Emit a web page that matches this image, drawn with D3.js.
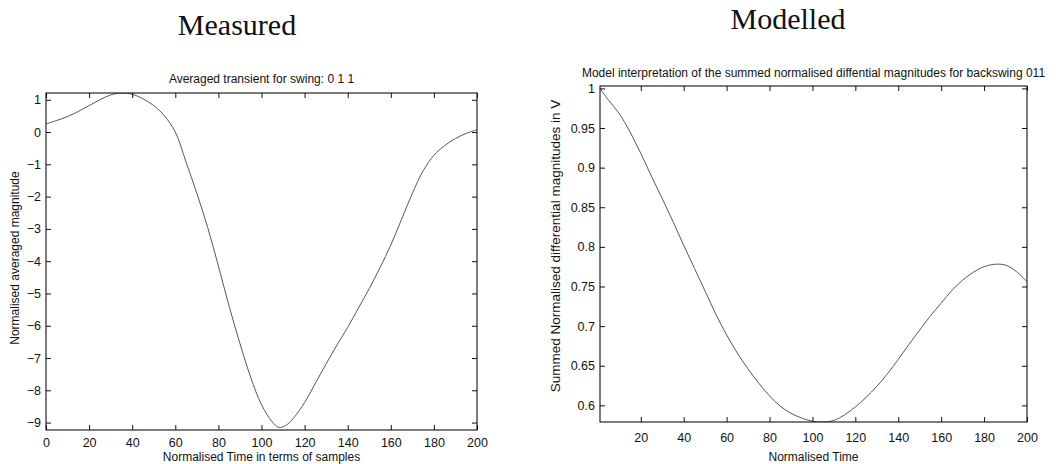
<!DOCTYPE html>
<html>
<head>
<meta charset="utf-8">
<script src="https://cdn.jsdelivr.net/npm/d3@7"></script>
<style>
  html, body { margin: 0; padding: 0; background: #fff; }
  svg { display: block; }
  .tick text { font-family: "Liberation Sans", Arial, sans-serif; font-size: 12.5px; fill: #111; }
  .lbl { font-family: "Liberation Sans", Arial, sans-serif; font-size: 12px; fill: #111; }
  .head { font-family: "Liberation Serif", "Times New Roman", serif; font-size: 30px; fill: #111; }
</style>
</head>
<body>
<svg id="fig" width="1060" height="464"></svg>
<script>
// Measured: averaged transient for swing 0 1 1
const measuredT = [0, 5, 10, 15, 20, 25, 30, 35, 40, 45, 50, 55, 60, 65, 70, 75, 80, 85, 90, 95, 100, 105, 108, 111, 115, 120, 125, 130, 135, 140, 145, 150, 155, 160, 165, 170, 175, 180, 185, 190, 195, 200];
const measuredV = [0.25, 0.36, 0.48, 0.64, 0.82, 1.0, 1.15, 1.21, 1.17, 1.03, 0.82, 0.5, 0.0, -0.93, -1.9, -2.95, -4.15, -5.4, -6.55, -7.6, -8.45, -8.98, -9.15, -9.1, -8.85, -8.38, -7.78, -7.18, -6.6, -6.05, -5.45, -4.85, -4.2, -3.5, -2.7, -1.9, -1.2, -0.72, -0.42, -0.2, -0.04, 0.07];

// Modelled: summed normalised differential magnitudes
const modelT = [1, 5, 10, 15, 20, 25, 30, 35, 40, 45, 50, 55, 60, 65, 70, 75, 80, 85, 90, 95, 100, 105, 110, 115, 120, 125, 130, 135, 140, 145, 150, 155, 160, 165, 170, 175, 180, 185, 190, 195, 200];
const modelV = [1.0, 0.985, 0.968, 0.945, 0.918, 0.889, 0.861, 0.832, 0.802, 0.773, 0.744, 0.715, 0.689, 0.666, 0.646, 0.628, 0.612, 0.599, 0.59, 0.584, 0.58, 0.579, 0.581, 0.588, 0.598, 0.61, 0.624, 0.64, 0.658, 0.677, 0.695, 0.713, 0.729, 0.745, 0.758, 0.768, 0.775, 0.778, 0.777, 0.769, 0.756];

const measuredXTicks = [0, 20, 40, 60, 80, 100, 120, 140, 160, 180, 200];
const measuredYTicks = [1, 0, -1, -2, -3, -4, -5, -6, -7, -8, -9];
const modelXTicks = [20, 40, 60, 80, 100, 120, 140, 160, 180, 200];
const modelYTicks = [0.6, 0.65, 0.7, 0.75, 0.8, 0.85, 0.9, 0.95, 1];

const svg = d3.select("#fig");

function panel(cfg) {
  const x = d3.scaleLinear().domain(cfg.xDomain).range([cfg.left, cfg.right]);
  const y = d3.scaleLinear().domain(cfg.yDomain).range([cfg.bottom, cfg.top]);
  const g = svg.append("g");
  const tk = 5;

  // clip so the trace stays inside the frame
  const clipId = "clip-" + cfg.id;
  svg.append("clipPath").attr("id", clipId).append("rect")
    .attr("x", cfg.left).attr("y", cfg.top)
    .attr("width", cfg.right - cfg.left).attr("height", cfg.bottom - cfg.top);

  const line = d3.line().x((d, i) => x(cfg.t[i])).y(d => y(d)).curve(d3.curveCatmullRom.alpha(0.5));
  g.append("path").datum(cfg.v)
    .attr("clip-path", `url(#${clipId})`)
    .attr("d", line).attr("fill", "none")
    .attr("stroke", "#444").attr("stroke-width", 0.9);

  // bottom / left axes with inward ticks
  const xb = g.append("g").attr("transform", `translate(0,${cfg.bottom})`)
    .call(d3.axisBottom(x).tickValues(cfg.xTicks).tickSizeInner(-tk).tickSizeOuter(0).tickPadding(cfg.xPad).tickFormat(d3.format("d")));
  const yl = g.append("g").attr("transform", `translate(${cfg.left},0)`)
    .call(d3.axisLeft(y).tickValues(cfg.yTicks).tickSizeInner(-tk).tickSizeOuter(0).tickPadding(5).tickFormat(cfg.yFmt));
  // mirrored top / right ticks
  const xt = g.append("g").attr("transform", `translate(0,${cfg.top})`)
    .call(d3.axisTop(x).tickValues(cfg.xTicks).tickSizeInner(-tk).tickSizeOuter(0).tickFormat(""));
  const yr = g.append("g").attr("transform", `translate(${cfg.right},0)`)
    .call(d3.axisRight(y).tickValues(cfg.yTicks).tickSizeInner(-tk).tickSizeOuter(0).tickFormat(""));
  [xb, yl, xt, yr].forEach(a => {
    a.select(".domain").remove();
    a.selectAll(".tick line").attr("stroke", "#111");
  });

  // frame
  g.append("rect").attr("x", cfg.left).attr("y", cfg.top)
    .attr("width", cfg.right - cfg.left).attr("height", cfg.bottom - cfg.top)
    .attr("fill", "none").attr("stroke", "#111").attr("stroke-width", 1.1);

  const cx = (cfg.left + cfg.right) / 2;
  g.append("text").attr("class", "lbl").attr("x", cx).attr("y", cfg.titleY)
    .attr("text-anchor", "middle").text(cfg.title);
  g.append("text").attr("class", "lbl").attr("x", cx).attr("y", 461)
    .attr("text-anchor", "middle").text(cfg.xLabel);
  g.append("text").attr("class", "lbl")
    .attr("transform", `translate(${cfg.yLabelX},${cfg.yLabelY}) rotate(-90)`)
    .attr("text-anchor", "middle").attr("dominant-baseline", "middle")
    .style("font-size", cfg.yLabelSize + "px").text(cfg.yLabel);
  g.append("text").attr("class", "head").attr("x", cfg.headX).attr("y", cfg.headY)
    .attr("text-anchor", "middle").text(cfg.head);
}

panel({
  id: "measured",
  t: measuredT, v: measuredV,
  xDomain: [0, 200], yDomain: [-9.23, 1.21],
  left: 46, right: 477, top: 93, bottom: 430, xPad: 8,
  xTicks: measuredXTicks, yTicks: measuredYTicks, yFmt: d3.format("d"),
  title: "Averaged transient for swing: 0 1 1", titleY: 83,
  xLabel: "Normalised Time in terms of samples",
  yLabel: "Normalised averaged magnitude", yLabelX: 16, yLabelY: 258, yLabelSize: 12,
  head: "Measured", headX: 237, headY: 35
});

panel({
  id: "model",
  t: modelT, v: modelV,
  xDomain: [1, 200], yDomain: [0.579, 1.003],
  left: 600, right: 1027, top: 86, bottom: 422, xPad: 11,
  xTicks: modelXTicks, yTicks: modelYTicks, yFmt: d => String(+d.toFixed(2)),
  title: "Model interpretation of the summed normalised diffential magnitudes for backswing 011", titleY: 77,
  xLabel: "Normalised Time",
  yLabel: "Summed Normalised differential magnitudes in V", yLabelX: 556, yLabelY: 246, yLabelSize: 13.5,
  head: "Modelled", headX: 788, headY: 29
});
</script>
</body>
</html>
